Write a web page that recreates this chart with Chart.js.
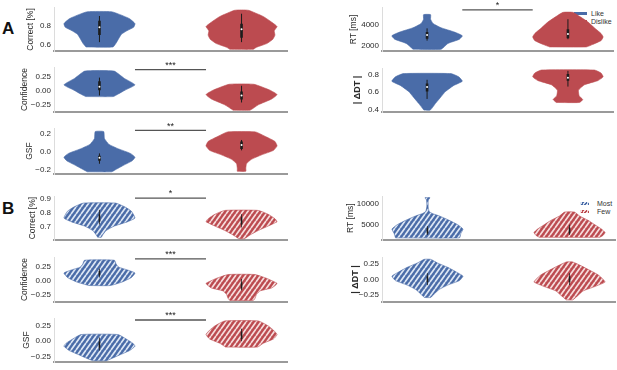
<!DOCTYPE html>
<html>
<head>
<meta charset="utf-8">
<script src="https://cdn.jsdelivr.net/npm/chart.js@4.4.1/dist/chart.umd.min.js"></script>
<style>
  body { margin: 0; background: #fff; width: 617px; height: 370px; position: relative; overflow: hidden;
         font-family: "Liberation Sans", Arial, sans-serif; }
  canvas { position: absolute; }
  .panel-letter { position: absolute; font-weight: bold; font-size: 17px; color: #111; line-height: 17px; }
  .legend { position: absolute; font-size: 7px; color: #333; }
  .legend div { height: 8px; line-height: 8px; white-space: nowrap; }
  .legend i { display: inline-block; height: 3px; vertical-align: middle; margin-top: -1px; }
</style>
</head>
<body>
<div class="panel-letter" style="left:2px;top:20px">A</div>
<div class="panel-letter" style="left:2px;top:200px">B</div>
<div class="legend" style="left:574px;top:10px">
  <div><i style="width:13px;margin-right:4px;background:#4a6ca8"></i>Like</div>
  <div><i style="width:13px;margin-right:4px;background:#bc4b50"></i>Dislike</div>
</div>
<div class="legend" style="left:580px;top:200px">
  <div><i style="width:9px;margin-right:8px;background:repeating-linear-gradient(-55deg,#4a6ca8 0 1.4px,#dce6f4 1.4px 2.8px)"></i>Most</div>
  <div><i style="width:9px;margin-right:8px;background:repeating-linear-gradient(-55deg,#bc4b50 0 1.4px,#f6dcdc 1.4px 2.8px)"></i>Few</div>
</div>
<script>
// ---- data: violin profiles (y level, relative half width) and box stats [lo, q1, med, q3, hi]
// A: Like / Dislike
const likeCorrectY = [0.579, 0.615, 0.666, 0.713, 0.749, 0.785, 0.824, 0.875, 0.913, 0.949];
const likeCorrectD = [0.38, 0.46, 0.54, 0.62, 0.77, 0.96, 1.0, 0.85, 0.62, 0.34];
const likeCorrectBox = [0.63, 0.704, 0.785, 0.854, 0.904];
const dislikeCorrectY = [0.555, 0.576, 0.615, 0.660, 0.704, 0.749, 0.794, 0.839, 0.899, 0.964];
const dislikeCorrectD = [0.33, 0.42, 0.71, 0.88, 0.94, 0.92, 1.0, 0.85, 0.61, 0.19];
const dislikeCorrectBox = [0.63, 0.675, 0.764, 0.824, 0.928];

const likeConfY = [-0.11, -0.074, 0.005, 0.1, 0.216, 0.347];
const likeConfD = [0.39, 0.5, 0.72, 1.0, 0.7, 0.41];
const likeConfBox = [-0.09, 0.005, 0.068, 0.163, 0.23];
const dislikeConfY = [-0.353, -0.258, -0.153, -0.074, 0.005, 0.11];
const dislikeConfD = [0.24, 0.47, 0.85, 1.0, 0.8, 0.35];
const dislikeConfBox = [-0.216, -0.163, -0.089, -0.02, 0.084];

const likeGsfY = [-0.223, -0.2, -0.15, -0.1, -0.06, -0.017, 0.033, 0.083, 0.15, 0.227];
const likeGsfD = [0.34, 0.45, 0.68, 0.92, 1.0, 0.87, 0.54, 0.27, 0.14, 0.12];
const likeGsfBox = [-0.133, -0.1, -0.067, -0.043, -0.017];
const dislikeGsfY = [-0.217, -0.183, -0.133, -0.083, -0.033, 0.017, 0.067, 0.117, 0.167, 0.223];
const dislikeGsfD = [0.12, 0.12, 0.14, 0.28, 0.57, 0.9, 1.0, 0.94, 0.7, 0.39];
const dislikeGsfBox = [0.017, 0.033, 0.077, 0.117, 0.133];

const likeRtY = [1680, 2213, 2613, 2933, 3280, 3680, 4080, 4480, 4907];
const likeRtD = [0.4, 0.59, 0.92, 1.0, 0.78, 0.4, 0.17, 0.1, 0.1];
const likeRtBox = [2480, 2667, 3013, 3280, 3627];
const dislikeRtY = [1893, 2133, 2480, 2827, 3147, 3680, 4213, 4747, 5120];
const dislikeRtD = [0.52, 0.71, 0.94, 1.0, 0.94, 0.75, 0.57, 0.33, 0.14];
const dislikeRtBox = [2613, 2700, 3093, 3547, 4480];

const likeDtY = [0.392, 0.469, 0.536, 0.603, 0.671, 0.721, 0.771, 0.808];
const likeDtD = [0.09, 0.24, 0.38, 0.52, 0.75, 1.0, 0.9, 0.68];
const likeDtBox = [0.519, 0.603, 0.654, 0.694, 0.738];
const dislikeDtY = [0.479, 0.513, 0.553, 0.62, 0.681, 0.728, 0.771, 0.815, 0.849];
const dislikeDtD = [0.33, 0.42, 0.32, 0.3, 0.47, 0.85, 1.0, 0.94, 0.75];
const dislikeDtBox = [0.66, 0.728, 0.761, 0.805, 0.839];

// B: Most / Few
const mostCorrectY = [0.623, 0.640, 0.672, 0.704, 0.736, 0.762, 0.811, 0.843, 0.870];
const mostCorrectD = [0.05, 0.09, 0.19, 0.42, 0.8, 1.0, 0.9, 0.71, 0.45];
const mostCorrectBox = [0.715, 0.736, 0.76, 0.789, 0.821];
const fewCorrectY = [0.613, 0.640, 0.672, 0.704, 0.736, 0.757, 0.789, 0.817];
const fewCorrectD = [0.08, 0.24, 0.47, 0.75, 1.0, 0.94, 0.75, 0.47];
const fewCorrectBox = [0.694, 0.715, 0.74, 0.768, 0.789];

const mostConfY = [-0.09, -0.027, 0.053, 0.133, 0.186, 0.239, 0.293, 0.362];
const mostConfD = [0.3, 0.64, 0.9, 1.0, 0.8, 0.54, 0.47, 0.42];
const mostConfBox = [0.053, 0.09, 0.12, 0.17, 0.213];
const fewConfY = [-0.356, -0.319, -0.25, -0.186, -0.133, -0.053, 0.037, 0.106];
const fewConfD = [0.33, 0.38, 0.42, 0.52, 0.85, 1.0, 0.71, 0.38];
const fewConfBox = [-0.175, -0.143, -0.1, -0.037, 0.027];

const mostGsfY = [-0.319, -0.286, -0.224, -0.152, -0.081, -0.033, 0.038, 0.11];
const mostGsfD = [0.19, 0.33, 0.57, 0.85, 1.0, 0.94, 0.75, 0.52];
const mostGsfBox = [-0.152, -0.105, -0.07, -0.01, 0.062];
const fewGsfY = [-0.095, -0.033, 0.038, 0.11, 0.181, 0.252, 0.333];
const fewGsfD = [0.45, 0.61, 0.9, 1.0, 0.9, 0.75, 0.47];
const fewGsfBox = [0.0, 0.038, 0.09, 0.157, 0.205];

const mostRtY = [1786, 2857, 3929, 5000, 6071, 7143, 7714, 8214, 9286, 10357, 11071, 11571];
const mostRtD = [0.9, 0.94, 1.0, 0.85, 0.61, 0.33, 0.14, 0.05, 0.02, 0.02, 0.03, 0.07];
const mostRtBox = [2500, 2857, 3500, 4143, 4643];
const fewRtY = [1929, 2357, 3071, 3929, 5000, 6071, 7143, 8071];
const fewRtD = [0.85, 0.94, 1.0, 0.9, 0.71, 0.52, 0.28, 0.14];
const fewRtBox = [2500, 2857, 3500, 4286, 5000];

const mostDtY = [-0.286, -0.229, -0.157, -0.086, -0.014, 0.057, 0.129, 0.2, 0.271, 0.329];
const mostDtD = [0.09, 0.19, 0.33, 0.57, 0.9, 1.0, 0.8, 0.57, 0.28, 0.09];
const mostDtBox = [-0.086, -0.038, 0.0, 0.057, 0.105];
const fewDtY = [-0.324, -0.252, -0.181, -0.11, -0.038, 0.01, 0.081, 0.152, 0.224, 0.286];
const fewDtD = [0.09, 0.24, 0.38, 0.71, 1.0, 0.94, 0.8, 0.57, 0.33, 0.09];
const fewDtBox = [-0.086, -0.038, 0.0, 0.057, 0.105];

// y tick values per panel
const ticksCorrectA = [0.6, 0.8];
const ticksConfA = [-0.25, 0, 0.25];
const ticksGsfA = [-0.2, 0, 0.2];
const ticksRtA = [2000, 4000];
const ticksDtA = [0.4, 0.6, 0.8];
const ticksCorrectB = [0.7, 0.8, 0.9];
const ticksConfB = [-0.25, 0, 0.25];
const ticksGsfB = [-0.25, 0, 0.25];
const ticksRtB = [5000, 10000];
const ticksDtB = [-0.25, 0, 0.25];

// significance bars: level of the bar and its label
const sigLevels = { confA: 0.374, gsfA: 0.24, rtA: 5360, correctB: 0.906, confB: 0.388, gsfB: 0.348 };
const sigLabels = { confA: '***', gsfA: '**', rtA: '*', correctB: '*', confB: '***', gsfB: '***' };

// ---- layout / style
Chart.defaults.font.family = '"Liberation Sans", Arial, sans-serif';
const COLORS = ['#4a6ca8', '#bc4b50'];
const LIGHT = ['#dce6f4', '#f6dcdc'];
const HALF = 0.25;
const COLS = [
  { left: 16, width: 276, yW: 38, right: 5 },
  { left: 340, width: 277, yW: 42, right: 2 }
];

const V = (y, d, box) => ({ y, d, box });
const panels = [
  { col: 0, top: 7, bottom: 57, range: [0.535, 0.99], ticks: ticksCorrectA, dec: 1, title: 'Correct [%]', tPad: 10,
    v: [V(likeCorrectY, likeCorrectD, likeCorrectBox), V(dislikeCorrectY, dislikeCorrectD, dislikeCorrectBox)] },
  { col: 0, top: 67, bottom: 118, range: [-0.39, 0.42], ticks: ticksConfA, dec: 2, title: 'Confidence', tPad: 4, sig: 'confA',
    v: [V(likeConfY, likeConfD, likeConfBox), V(dislikeConfY, dislikeConfD, dislikeConfBox)] },
  { col: 0, top: 128, bottom: 180, range: [-0.25, 0.267], ticks: ticksGsfA, dec: 1, title: 'GSF', tPad: 9, sig: 'gsfA',
    v: [V(likeGsfY, likeGsfD, likeGsfBox), V(dislikeGsfY, dislikeGsfD, dislikeGsfBox)] },
  { col: 1, top: 7, bottom: 57, range: [1493, 5547], ticks: ticksRtA, dec: 0, title: 'RT [ms]', tPad: 9, sig: 'rtA',
    v: [V(likeRtY, likeRtD, likeRtBox), V(dislikeRtY, dislikeRtD, dislikeRtBox)] },
  { col: 1, top: 68, bottom: 118, range: [0.368, 0.872], ticks: ticksDtA, dec: 1, title: '| ΔDT |', tPad: 12, bold: true,
    v: [V(likeDtY, likeDtD, likeDtBox), V(dislikeDtY, dislikeDtD, dislikeDtBox)] },
  { col: 0, top: 196, bottom: 246, range: [0.602, 0.921], ticks: ticksCorrectB, dec: 1, title: 'Correct [%]', tPad: 12, sig: 'correctB', hatch: true,
    v: [V(mostCorrectY, mostCorrectD, mostCorrectBox), V(fewCorrectY, fewCorrectD, fewCorrectBox)] },
  { col: 0, top: 257, bottom: 308, range: [-0.388, 0.42], ticks: ticksConfB, dec: 2, title: 'Confidence', tPad: 4, sig: 'confB', hatch: true,
    v: [V(mostConfY, mostConfD, mostConfBox), V(fewConfY, fewConfD, fewConfBox)] },
  { col: 0, top: 318, bottom: 368, range: [-0.343, 0.381], ticks: ticksGsfB, dec: 2, title: 'GSF', tPad: 6, sig: 'gsfB', hatch: true,
    v: [V(mostGsfY, mostGsfD, mostGsfBox), V(fewGsfY, fewGsfD, fewGsfBox)] },
  { col: 1, top: 196, bottom: 246, range: [1214, 12000], ticks: ticksRtB, dec: 0, title: 'RT [ms]', tPad: 6, hatch: true,
    v: [V(mostRtY, mostRtD, mostRtBox), V(fewRtY, fewRtD, fewRtBox)] },
  { col: 1, top: 257, bottom: 308, range: [-0.362, 0.367], ticks: ticksDtB, dec: 2, title: '| ΔDT |', tPad: 10, bold: true, hatch: true,
    v: [V(mostDtY, mostDtD, mostDtBox), V(fewDtY, fewDtD, fewDtBox)] }
];

function outline(cx, ys, ds) {
  const left = ys.map((y, i) => ({ x: cx - ds[i] * HALF, y }));
  const right = ys.map((y, i) => ({ x: cx + ds[i] * HALF, y })).reverse();
  return left.concat(right, [left[0]]);
}

function stripes(ctx, base, light) {
  const c = document.createElement('canvas');
  const w = 5, h = 7;
  c.width = w; c.height = h;
  const g = c.getContext('2d');
  g.fillStyle = base;
  g.fillRect(0, 0, w, h);
  g.strokeStyle = light;
  g.lineWidth = 1.7;
  g.beginPath();
  g.moveTo(0, h); g.lineTo(w, 0);
  g.moveTo(-w, h); g.lineTo(0, 0);
  g.moveTo(w, h); g.lineTo(2 * w, 0);
  g.stroke();
  return ctx.createPattern(c, 'repeat');
}

const fmt = (v, dec) => (v < 0 ? '\u2212' : '') + Math.abs(v).toFixed(dec);

const sigText = {
  id: 'sigText',
  afterDatasetsDraw(chart, args, opts) {
    if (!opts.text) return;
    const { ctx, scales: { x, y } } = chart;
    ctx.save();
    ctx.fillStyle = '#222';
    ctx.font = '9px "Liberation Sans", Arial, sans-serif';
    ctx.textAlign = 'center';
    ctx.textBaseline = 'alphabetic';
    ctx.fillText(opts.text, x.getPixelForValue(0.5), y.getPixelForValue(opts.level) - 1.7);
    ctx.restore();
  }
};

panels.forEach(p => {
  const col = COLS[p.col];
  const padTop = Math.min(10, p.top);
  const cv = document.createElement('canvas');
  cv.width = col.width;
  cv.height = padTop + (p.bottom - p.top) + 2;
  cv.style.left = col.left + 'px';
  cv.style.top = (p.top - padTop) + 'px';
  document.body.appendChild(cv);
  const ctx = cv.getContext('2d');

  const datasets = [];
  p.v.forEach((v, i) => {
    datasets.push({
      data: outline(i, v.y, v.d), showLine: true, fill: 'shape', order: 3,
      backgroundColor: p.hatch ? stripes(ctx, COLORS[i], LIGHT[i]) : COLORS[i],
      borderColor: COLORS[i], borderWidth: 0.6, pointRadius: 0, tension: 0.15
    });
    datasets.push({
      data: [{ x: i, y: v.box[0] }, { x: i, y: v.box[4] }], showLine: true, order: 2,
      borderColor: '#1c1c1c', borderWidth: p.hatch ? 0.8 : 1, pointRadius: 0
    });
    datasets.push({
      data: [{ x: i, y: v.box[1] }, { x: i, y: v.box[3] }], showLine: true, order: 1,
      borderColor: '#1c1c1c', borderWidth: p.hatch ? 1.6 : 2.6, pointRadius: 0
    });
    if (!p.hatch) {
      datasets.push({
        data: [{ x: i, y: v.box[2] }], showLine: false, order: 0,
        pointRadius: 1, pointBackgroundColor: '#fff', pointBorderWidth: 0
      });
    }
  });
  if (p.sig) {
    const lv = sigLevels[p.sig];
    datasets.push({
      data: [{ x: 0.25, y: lv }, { x: 0.75, y: lv }], showLine: true, order: 0, clip: false,
      borderColor: '#555', borderWidth: 1.3, pointRadius: 0
    });
  }

  new Chart(ctx, {
    type: 'scatter',
    data: { datasets },
    plugins: [sigText],
    options: {
      responsive: false,
      animation: false,
      events: [],
      layout: { padding: { top: padTop, bottom: 2, left: 0, right: col.right } },
      plugins: {
        legend: { display: false },
        tooltip: { enabled: false },
        sigText: p.sig ? { text: sigLabels[p.sig], level: sigLevels[p.sig] } : {}
      },
      scales: {
        x: {
          type: 'linear', min: -0.32, max: 1.32,
          ticks: { display: false },
          grid: { display: false, drawTicks: false },
          border: { color: '#9a9a9a', width: 2 },
          afterFit(s) { s.height = 0; }
        },
        y: {
          min: p.range[0], max: p.range[1],
          afterBuildTicks(s) { s.ticks = p.ticks.map(v => ({ value: v })); },
          ticks: { color: '#2b2b2b', font: { size: 8 }, padding: 3, callback: v => fmt(v, p.dec) },
          grid: { display: false, drawTicks: false },
          border: { color: '#dcdcdc', width: 1 },
          title: {
            display: true, text: p.title, color: '#2b2b2b',
            font: p.bold ? { size: 9, weight: 'bold' } : { size: 8.5 },
            padding: { top: p.tPad - 0.3, bottom: 0 }
          },
          afterFit(s) { s.width = col.yW; }
        }
      }
    }
  });
});
</script>
</body>
</html>
